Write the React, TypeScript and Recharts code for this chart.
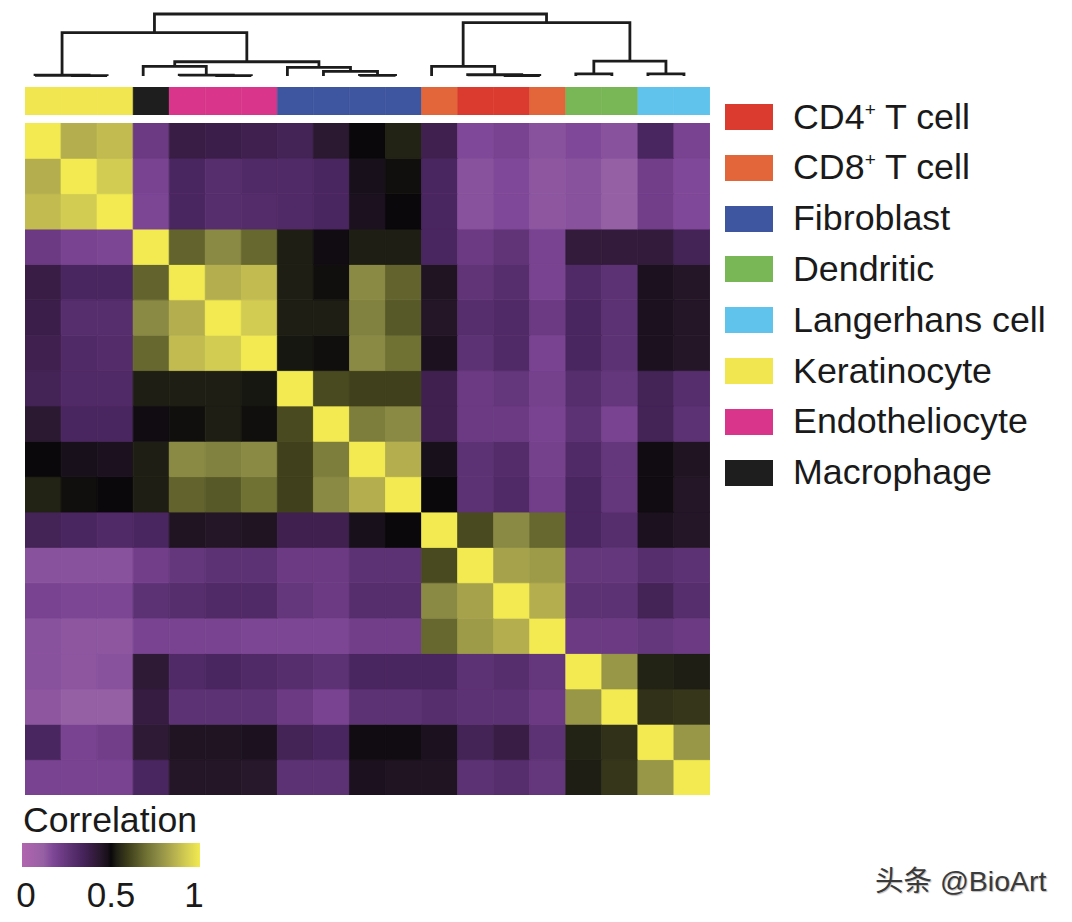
import { BarChart, Bar, Cell, XAxis, YAxis, LineChart, Line } from "recharts";

const FONT = "'Liberation Sans', Arial, sans-serif";

// cell type of each heatmap column (= dendrogram leaf order)
const columnTypes = [
  "Keratinocyte", "Keratinocyte", "Keratinocyte",
  "Macrophage",
  "Endotheliocyte", "Endotheliocyte", "Endotheliocyte",
  "Fibroblast", "Fibroblast", "Fibroblast", "Fibroblast",
  "CD8", "CD4", "CD4", "CD8",
  "Dendritic", "Dendritic",
  "Langerhans", "Langerhans",
];

const typeColors: Record<string, string> = {
  CD4: "#db3b2e",
  CD8: "#e2663a",
  Fibroblast: "#3e559f",
  Dendritic: "#79b656",
  Langerhans: "#60c3ec",
  Keratinocyte: "#f1e64f",
  Endotheliocyte: "#d9358b",
  Macrophage: "#1e1e1e",
};

const legendKeys = ["CD4", "CD8", "Fibroblast", "Dendritic", "Langerhans", "Keratinocyte", "Endotheliocyte", "Macrophage"];
const legendLabels = ["CD4", "CD8", "Fibroblast", "Dendritic", "Langerhans cell", "Keratinocyte", "Endotheliocyte", "Macrophage"];
const legendSup = [true, true, false, false, false, false, false, false];

// correlation matrix, rows top -> bottom, columns left -> right
const corr = [
  [1, 0.85, 0.88, 0.23, 0.39, 0.38, 0.37, 0.35, 0.43, 0.5, 0.54, 0.37, 0.17, 0.19, 0.15, 0.17, 0.15, 0.33, 0.19],
  [0.85, 1, 0.92, 0.19, 0.33, 0.29, 0.31, 0.31, 0.33, 0.48, 0.51, 0.33, 0.15, 0.17, 0.14, 0.15, 0.12, 0.21, 0.17],
  [0.88, 0.92, 1, 0.18, 0.33, 0.29, 0.3, 0.31, 0.33, 0.47, 0.5, 0.33, 0.15, 0.17, 0.14, 0.15, 0.12, 0.21, 0.17],
  [0.23, 0.19, 0.18, 1, 0.67, 0.76, 0.68, 0.53, 0.49, 0.53, 0.53, 0.33, 0.23, 0.26, 0.19, 0.41, 0.41, 0.41, 0.35],
  [0.39, 0.33, 0.33, 0.67, 1, 0.85, 0.88, 0.53, 0.51, 0.76, 0.67, 0.46, 0.26, 0.29, 0.19, 0.31, 0.27, 0.47, 0.45],
  [0.38, 0.29, 0.29, 0.76, 0.85, 1, 0.92, 0.53, 0.53, 0.74, 0.65, 0.45, 0.29, 0.31, 0.23, 0.33, 0.27, 0.47, 0.45],
  [0.37, 0.31, 0.3, 0.68, 0.88, 0.92, 1, 0.52, 0.51, 0.76, 0.7, 0.47, 0.27, 0.31, 0.19, 0.33, 0.27, 0.47, 0.45],
  [0.35, 0.31, 0.31, 0.53, 0.53, 0.53, 0.52, 1, 0.62, 0.6, 0.6, 0.37, 0.23, 0.25, 0.2, 0.29, 0.25, 0.35, 0.29],
  [0.43, 0.33, 0.33, 0.49, 0.51, 0.53, 0.51, 0.62, 1, 0.73, 0.76, 0.37, 0.23, 0.23, 0.19, 0.27, 0.19, 0.35, 0.27],
  [0.5, 0.48, 0.47, 0.53, 0.76, 0.74, 0.76, 0.6, 0.73, 1, 0.85, 0.48, 0.27, 0.3, 0.2, 0.31, 0.25, 0.49, 0.46],
  [0.54, 0.51, 0.5, 0.53, 0.67, 0.65, 0.7, 0.6, 0.76, 0.85, 1, 0.5, 0.27, 0.31, 0.21, 0.33, 0.25, 0.49, 0.45],
  [0.35, 0.33, 0.31, 0.33, 0.46, 0.45, 0.46, 0.37, 0.37, 0.48, 0.5, 1, 0.62, 0.76, 0.68, 0.33, 0.29, 0.47, 0.45],
  [0.15, 0.15, 0.15, 0.21, 0.25, 0.27, 0.27, 0.23, 0.23, 0.27, 0.27, 0.62, 1, 0.82, 0.8, 0.25, 0.25, 0.29, 0.27],
  [0.19, 0.18, 0.18, 0.27, 0.29, 0.31, 0.31, 0.25, 0.23, 0.29, 0.29, 0.76, 0.82, 1, 0.85, 0.27, 0.27, 0.35, 0.29],
  [0.15, 0.14, 0.14, 0.19, 0.19, 0.19, 0.18, 0.18, 0.18, 0.21, 0.21, 0.68, 0.8, 0.85, 1, 0.23, 0.23, 0.25, 0.23],
  [0.15, 0.14, 0.15, 0.42, 0.31, 0.33, 0.31, 0.29, 0.27, 0.33, 0.33, 0.33, 0.27, 0.29, 0.25, 1, 0.79, 0.54, 0.53],
  [0.14, 0.12, 0.12, 0.4, 0.27, 0.27, 0.27, 0.23, 0.19, 0.27, 0.27, 0.29, 0.27, 0.27, 0.23, 0.79, 1, 0.57, 0.58],
  [0.33, 0.19, 0.21, 0.42, 0.46, 0.46, 0.47, 0.35, 0.33, 0.49, 0.49, 0.47, 0.35, 0.39, 0.27, 0.54, 0.57, 1, 0.79],
  [0.19, 0.19, 0.19, 0.33, 0.45, 0.45, 0.44, 0.27, 0.27, 0.47, 0.46, 0.46, 0.27, 0.29, 0.25, 0.53, 0.58, 0.79, 1],
];

// hclust style merges: negative = leaf (-(i+1)), positive = earlier merge (1-based)
const merges: [number, number, number][] = [
  [-2, -3, 0.005],
  [-1, 1, 0.012],
  [-6, -7, 0.006],
  [-5, 3, 0.015],
  [-4, 4, 0.155],
  [-10, -11, 0.01],
  [-9, 6, 0.075],
  [-8, 7, 0.14],
  [5, 8, 0.23],
  [2, 9, 0.7],
  [-14, -15, 0.008],
  [-13, 11, 0.02],
  [-12, 12, 0.155],
  [-16, -17, 0.035],
  [-18, -19, 0.035],
  [14, 15, 0.24],
  [13, 16, 0.86],
  [10, 17, 1.0],
];

// colour scale: value, r, g, b
const colorStops: [number, number, number, number][] = [
  [0, 178, 100, 175],
  [0.12, 150, 96, 164],
  [0.17, 128, 72, 152],
  [0.22, 110, 60, 134],
  [0.28, 90, 48, 112],
  [0.33, 74, 38, 96],
  [0.38, 60, 30, 74],
  [0.44, 40, 24, 44],
  [0.48, 24, 16, 26],
  [0.5, 10, 8, 10],
  [0.53, 30, 30, 20],
  [0.6, 64, 64, 28],
  [0.7, 112, 114, 52],
  [0.76, 138, 138, 68],
  [0.85, 180, 174, 78],
  [0.92, 210, 204, 82],
  [1, 242, 234, 80],
];

const colorTicks = [0, 0.5, 1];

const toHex = (n: number) => Math.round(n).toString(16).padStart(2, "0");

function corrColor(v: number) {
  for (let i = 1; i < colorStops.length; i++) {
    const [v1, r1, g1, b1] = colorStops[i];
    if (v <= v1) {
      const [v0, r0, g0, b0] = colorStops[i - 1];
      const t = (v - v0) / (v1 - v0);
      return "#" + toHex(r0 + (r1 - r0) * t) + toHex(g0 + (g1 - g0) * t) + toHex(b0 + (b1 - b0) * t);
    }
  }
  const [, r, g, b] = colorStops[colorStops.length - 1];
  return "#" + toHex(r) + toHex(g) + toHex(b);
}

const n = columnTypes.length;
const heatData = columnTypes.map((_, c) => {
  const row: Record<string, number> = { col: c };
  corr.forEach((_, r) => (row["r" + r] = 1));
  return row;
});
const annoData = columnTypes.map((t, c) => ({ col: c, type: t, v: 1 }));

// dendrogram links built from merges
const nodeX: number[] = [];
const nodeH: number[] = [];
const pos = (ref: number): [number, number] =>
  ref < 0 ? [-ref - 1 + 0.5, 0] : [nodeX[ref - 1], nodeH[ref - 1]];
const dendroLinks = merges.map(([a, b, h], k) => {
  const [xa, ha] = pos(a);
  const [xb, hb] = pos(b);
  nodeX[k] = (xa + xb) / 2;
  nodeH[k] = h;
  return [
    { x: xa, y: ha },
    { x: xa, y: h },
    { x: xb, y: h },
    { x: xb, y: hb },
  ];
});

const abs = (left: number, top: number): React.CSSProperties => ({ position: "absolute", left, top });

// colour bar tick: end labels pulled inward like the original
const ColorTick = (props: any) => {
  const { x, y, payload } = props;
  const shift = payload.value === 0 ? 4 : payload.value === 1 ? -6 : 0;
  return (
    <text x={x + shift} y={y} dy="0.71em" textAnchor="middle" fontSize={35} fill="#1a1a1a" fontFamily={FONT}>
      {payload.value}
    </text>
  );
};

export default function App() {
  return (
    <div style={{ position: "relative", width: 1056, height: 906, fontFamily: FONT, color: "#1a1a1a" }}>
      {/* dendrogram */}
      <div style={abs(9, 2)}>
        <LineChart width={685} height={70} margin={{ top: 4, right: 0, bottom: 4, left: 0 }}>
          <XAxis type="number" dataKey="x" domain={[0, n]} hide />
          <YAxis type="number" domain={[0, 1]} hide />
          {dendroLinks.map((d, i) => (
            <Line
              key={i}
              data={d}
              dataKey="y"
              type="linear"
              stroke="#1c1c1c"
              strokeWidth={2.8}
              dot={false}
              activeDot={false}
              isAnimationActive={false}
            />
          ))}
        </LineChart>
      </div>

      {/* column annotation */}
      <div style={abs(17, 79)}>
        <BarChart width={685} height={28} data={annoData} margin={{ top: 0, right: 0, bottom: 0, left: 0 }} barCategoryGap={0} barGap={0}>
          <XAxis dataKey="col" hide />
          <YAxis domain={[0, 1]} hide />
          <Bar dataKey="v" isAnimationActive={false}>
            {annoData.map((d, i) => (
              <Cell key={i} fill={typeColors[d.type]} stroke={typeColors[d.type]} strokeWidth={0.6} />
            ))}
          </Bar>
        </BarChart>
      </div>

      {/* heatmap */}
      <div style={abs(17, 115)}>
        <BarChart width={685} height={672} data={heatData} margin={{ top: 0, right: 0, bottom: 0, left: 0 }} barCategoryGap={0} barGap={0}>
          <XAxis dataKey="col" hide />
          <YAxis domain={[0, n]} hide />
          {corr
            .map((vals, r) => ({ vals, r }))
            .reverse()
            .map(({ vals, r }) => (
              <Bar key={r} dataKey={"r" + r} stackId="a" isAnimationActive={false}>
                {vals.map((v, c) => (
                  <Cell key={c} fill={corrColor(v)} stroke={corrColor(v)} strokeWidth={0.8} />
                ))}
              </Bar>
            ))}
        </BarChart>
      </div>

      {/* legend */}
      {legendKeys.map((k, i) => {
        const cy = 117 + i * 50.8 - 8;
        return (
          <div key={k}>
            <div style={{ ...abs(717, cy - 13), width: 48, height: 26, background: typeColors[k] }} />
            <div style={{ ...abs(785, cy - 17.5), fontSize: 35.8, lineHeight: "35.8px", whiteSpace: "nowrap" }}>
              {legendLabels[i]}
              {legendSup[i] && <span style={{ fontSize: 19, position: "relative", top: -13 }}>+</span>}
              {legendSup[i] && " T cell"}
            </div>
          </div>
        );
      })}

      {/* colour bar */}
      <div style={{ ...abs(15, 795), fontSize: 35.6, lineHeight: "35.6px" }}>Correlation</div>
      <div style={abs(-6, 835)}>
        <BarChart width={218} height={74} layout="vertical" data={[{ name: "c", v: 1 }]} margin={{ top: 0, right: 20, bottom: 0, left: 20 }} barCategoryGap={0}>
          <defs>
            <linearGradient id="corrGrad" x1="0" y1="0" x2="1" y2="0">
              {colorStops.map(([v, r, g, b]) => (
                <stop key={v} offset={v} stopColor={`rgb(${r},${g},${b})`} />
              ))}
            </linearGradient>
          </defs>
          <XAxis
            type="number"
            domain={[0, 1]}
            ticks={colorTicks}
            interval={0}
            height={50}
            axisLine={false}
            tickLine={false}
            tickMargin={9}
            tick={<ColorTick />}
          />
          <YAxis type="category" dataKey="name" hide />
          <Bar dataKey="v" fill="url(#corrGrad)" isAnimationActive={false} />
        </BarChart>
      </div>

      {/* watermark */}
      <div style={{ ...abs(867, 859), fontSize: 28.5, lineHeight: "28px", color: "#3a3a3a", fontFamily: "'Liberation Sans', 'Noto Sans CJK SC', sans-serif", textShadow: "1px 1px 1px #bbb" }}>
        头条 @BioArt
      </div>
    </div>
  );
}
